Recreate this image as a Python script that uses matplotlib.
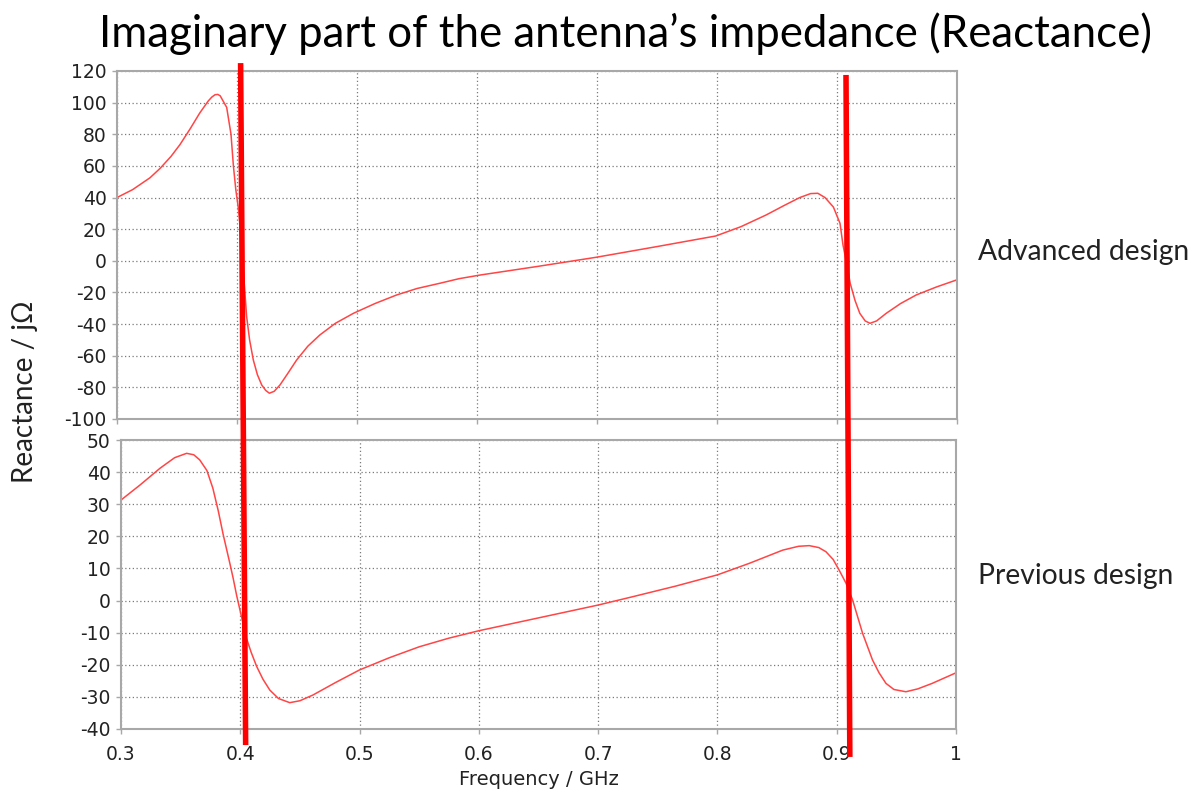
import matplotlib.pyplot as plt
from matplotlib.patches import ConnectionPatch
from matplotlib.ticker import FormatStrFormatter

plt.rcParams['axes.unicode_minus'] = False

# advanced design (upper panel)
freq_adv = [0.300, 0.313, 0.3275, 0.336, 0.345, 0.3525, 0.361, 0.369, 0.376, 0.379,
            0.3817, 0.384, 0.386, 0.3914, 0.395, 0.397, 0.399, 0.401, 0.403, 0.404,
            0.406, 0.408, 0.4105, 0.4136, 0.417, 0.4206, 0.424, 0.427, 0.431, 0.4358,
            0.4425, 0.4497, 0.459, 0.469, 0.482, 0.497, 0.515, 0.533, 0.55, 0.569,
            0.585, 0.6025, 0.65, 0.699, 0.75, 0.799, 0.82, 0.841, 0.856, 0.869,
            0.878, 0.884, 0.890, 0.897, 0.9025, 0.905, 0.908, 0.911, 0.915, 0.919,
            0.9235, 0.9275, 0.933, 0.941, 0.953, 0.966, 0.983, 1.0]
react_adv = [40, 45, 52.5, 58.5, 66, 73.5, 83.5, 93.5, 101, 103.5,
             105, 105.2, 104.3, 97, 80, 60, 45, 34, 18, 5,
             -14, -35, -50, -62.7, -72, -78.5, -82, -83.7, -82.5, -78.5,
             -71, -62.7, -54, -46.9, -39.5, -33.2, -27, -21.6, -17.5, -14.2,
             -11.3, -9, -3.6, 2.2, 9, 15.7, 21.6, 29, 35, 40,
             42.5, 42.7, 40, 34, 23.7, 10, -1.5, -14.2, -25, -33.2,
             -38, -39.5, -38, -33.2, -27, -21.6, -16.5, -12]

# previous design (lower panel)
freq_prev = [0.300, 0.316, 0.3327, 0.345, 0.355, 0.361, 0.366, 0.372, 0.377, 0.3815,
             0.3857, 0.391, 0.394, 0.397, 0.401, 0.405, 0.409, 0.4137, 0.419, 0.4248,
             0.432, 0.4415, 0.45, 0.461, 0.48, 0.5, 0.525, 0.55, 0.575, 0.6,
             0.65, 0.7, 0.729, 0.765, 0.8, 0.8268, 0.8547, 0.868, 0.877, 0.885,
             0.891, 0.897, 0.902, 0.9078, 0.9133, 0.9175, 0.9217, 0.926, 0.930, 0.9355,
             0.9413, 0.948, 0.958, 0.968, 0.98, 1.0]
react_prev = [31.3, 36, 41.2, 44.5, 45.85, 45.4, 43.8, 40.5, 35, 28,
              20.5, 12, 7, 1.5, -5, -11.5, -16, -20.5, -24.5, -27.9,
              -30.5, -31.8, -31.2, -29.4, -25.5, -21.6, -17.8, -14.4, -11.7, -9.4,
              -5.4, -1.4, 1.2, 4.5, 8, 11.6, 15.7, 16.9, 17.1, 16.5,
              15.2, 12.8, 9.5, 5.4, 0.2, -5, -10.2, -14.5, -18.5, -22.5,
              -25.8, -27.7, -28.4, -27.5, -25.8, -22.5]

xticks = [0.3, 0.4, 0.5, 0.6, 0.7, 0.8, 0.9, 1.0]
yticks_adv = list(range(-100, 121, 20))
yticks_prev = list(range(-40, 51, 10))

# hand drawn markers: (freq at top, reactance at top, freq at bottom, reactance at bottom)
markers = [(0.403, 125, 0.4045, -45), (0.9075, 117.5, 0.911, -48.7)]

curve_col = '#ff4545'
grid_col = '#7a7a7a'
spine_col = '#a8a8a8'
text_col = '#222222'

fig = plt.figure(figsize=(12, 7.96), dpi=100)
ax_top = fig.add_axes([117/1200, 1-419/796, 840/1200, 348/796])
ax_bot = fig.add_axes([121/1200, 1-729/796, 835/1200, 289/796])

ax_top.plot(freq_adv, react_adv, color=curve_col, lw=1.1)
ax_bot.plot(freq_prev, react_prev, color=curve_col, lw=1.1)

for ax, yt in ((ax_top, yticks_adv), (ax_bot, yticks_prev)):
    ax.set_xlim(0.3, 1.0)
    ax.set_ylim(yt[0], yt[-1])
    ax.set_xticks(xticks)
    ax.set_yticks(yt)
    ax.grid(True, color=grid_col, linestyle=(0, (1, 2)), lw=0.9)
    for s in ax.spines.values():
        s.set_color(spine_col)
        s.set_linewidth(1.5)
    ax.tick_params(colors=spine_col, labelcolor=text_col, labelsize=13.5,
                   length=3.5, width=1, pad=4)
    ax.xaxis.set_major_formatter(FormatStrFormatter('%g'))

ax_top.tick_params(axis='x', labelbottom=False)
ax_bot.tick_params(axis='x', pad=8)
ax_bot.set_xlabel('Frequency / GHz', fontsize=14, color=text_col, labelpad=4)

for ft, yt_, fb, yb in markers:
    con = ConnectionPatch(xyA=(ft, yt_), coordsA=ax_top.transData,
                          xyB=(fb, yb), coordsB=ax_bot.transData,
                          color='#ff0000', lw=4.0, capstyle='butt', clip_on=False)
    fig.add_artist(con)

fig.text(626/1200, 1-34/796, 'Imaginary part of the antenna\u2019s impedance (Reactance)',
         fontsize=31.5, family='Lato', ha='center', va='center', color='black')
fig.text(978/1200, 1-252/796, 'Advanced design', fontsize=20.3, family='Lato',
         ha='left', va='center', color=text_col)
fig.text(978/1200, 1-576/796, 'Previous design', fontsize=20.3, family='Lato',
         ha='left', va='center', color=text_col)
fig.text(25/1200, 1-392/796, 'Reactance / j\u03a9', fontsize=20, family='Lato',
         rotation=90, ha='center', va='center', color=text_col)

fig.savefig('out.png', dpi=100)
